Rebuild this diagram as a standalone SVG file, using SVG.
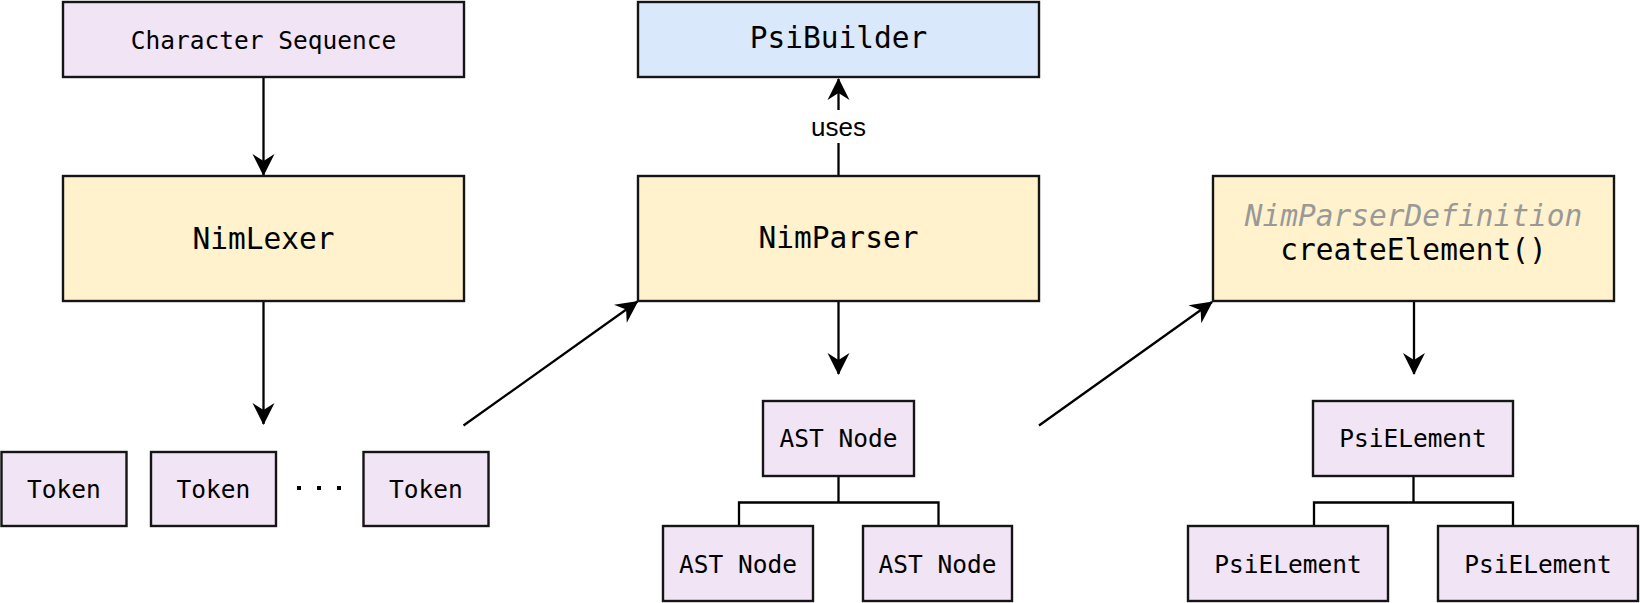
<svg xmlns="http://www.w3.org/2000/svg" width="1640" height="603" viewBox="0 0 1640 603">
  <style>
    .box { stroke: #151515; stroke-width: 2.4; }
    .purple { fill: #f0e4f5; }
    .yellow { fill: #fff2cc; }
    .blue { fill: #dae8fc; }
    .mono { font-family: "DejaVu Sans Mono", "Liberation Mono", monospace; fill: #000; text-anchor: middle; }
    .s { font-size: 24.5px; }
    .l { font-size: 29.5px; }
    .gray { fill: #999999; font-style: italic; }
    .edge { fill: none; stroke: #000; stroke-width: 2.3; }
    .lbl { font-family: "Liberation Sans", Arial, sans-serif; font-size: 26px; fill: #000; text-anchor: middle; }
  </style>
  <defs>
    <marker id="arrow" markerUnits="userSpaceOnUse" viewBox="-24 -13 26 26" refX="0" refY="0" markerWidth="26" markerHeight="26" orient="auto">
      <path d="M1,0 L-21,-11 L-14,0 L-21,11 Z" fill="#000"/>
    </marker>
  </defs>
  <rect width="1640" height="603" fill="#ffffff"/>

  <g id="connectors">
    <line class="edge" x1="263.5" y1="77" x2="263.5" y2="175" marker-end="url(#arrow)"/>
    <line class="edge" x1="263.5" y1="301" x2="263.5" y2="424" marker-end="url(#arrow)"/>
    <line class="edge" x1="838.5" y1="176" x2="838.5" y2="79" marker-end="url(#arrow)"/>
    <rect x="805" y="110" width="67" height="33" fill="#ffffff"/>
    <text class="lbl" x="838.5" y="135.5">uses</text>
    <line class="edge" x1="838.5" y1="301" x2="838.5" y2="374" marker-end="url(#arrow)"/>
    <line class="edge" x1="1414" y1="301" x2="1414" y2="374" marker-end="url(#arrow)"/>
    <line class="edge" x1="463.5" y1="425.5" x2="637.5" y2="301.5" marker-end="url(#arrow)"/>
    <line class="edge" x1="1039" y1="425.5" x2="1212" y2="302" marker-end="url(#arrow)"/>
    <path class="edge" d="M838.5,476 V502.5 M739,526 V502.5 H938.5 V526"/>
    <path class="edge" d="M1413.5,476 V502.5 M1314,526 V502.5 H1513 V526"/>
    <line x1="297" y1="488" x2="341" y2="488" stroke="#000" stroke-width="4" stroke-dasharray="4 16"/>
  </g>

  <g id="character-sequence">
    <rect class="box purple" x="63" y="2" width="401" height="75"/>
    <text class="mono s" x="263.5" y="48.5">Character Sequence</text>
  </g>
  <g id="nimlexer">
    <rect class="box yellow" x="63" y="176" width="401" height="125"/>
    <text class="mono l" x="263.5" y="248.5">NimLexer</text>
  </g>
  <g id="psibuilder">
    <rect class="box blue" x="638" y="2" width="401" height="75"/>
    <text class="mono l" x="838.5" y="48">PsiBuilder</text>
  </g>
  <g id="nimparser">
    <rect class="box yellow" x="638" y="176" width="401" height="125"/>
    <text class="mono l" x="838.5" y="248">NimParser</text>
  </g>
  <g id="nimparserdefinition">
    <rect class="box yellow" x="1213" y="176" width="401" height="125"/>
    <text class="mono l gray" x="1413.5" y="226">NimParserDefinition</text>
    <text class="mono l" x="1413.5" y="259.5">createElement()</text>
  </g>

  <g id="token-1">
    <rect class="box purple" x="1.5" y="452" width="125" height="74"/>
    <text class="mono s" x="64" y="497.5">Token</text>
  </g>
  <g id="token-2">
    <rect class="box purple" x="151" y="452" width="125" height="74"/>
    <text class="mono s" x="213.5" y="497.5">Token</text>
  </g>
  <g id="token-3">
    <rect class="box purple" x="363.5" y="452" width="125" height="74"/>
    <text class="mono s" x="426" y="497.5">Token</text>
  </g>

  <g id="ast-root">
    <rect class="box purple" x="763" y="401" width="151" height="75"/>
    <text class="mono s" x="838.5" y="446.5">AST Node</text>
  </g>
  <g id="ast-left">
    <rect class="box purple" x="663" y="526" width="150" height="75"/>
    <text class="mono s" x="738" y="573">AST Node</text>
  </g>
  <g id="ast-right">
    <rect class="box purple" x="863" y="526" width="149" height="75"/>
    <text class="mono s" x="937.5" y="573">AST Node</text>
  </g>

  <g id="psi-root">
    <rect class="box purple" x="1313" y="401" width="200" height="75"/>
    <text class="mono s" x="1413" y="446.5">PsiELement</text>
  </g>
  <g id="psi-left">
    <rect class="box purple" x="1188" y="526" width="200" height="75"/>
    <text class="mono s" x="1288" y="573">PsiELement</text>
  </g>
  <g id="psi-right">
    <rect class="box purple" x="1438" y="526" width="200" height="75"/>
    <text class="mono s" x="1538" y="573">PsiELement</text>
  </g>
</svg>
